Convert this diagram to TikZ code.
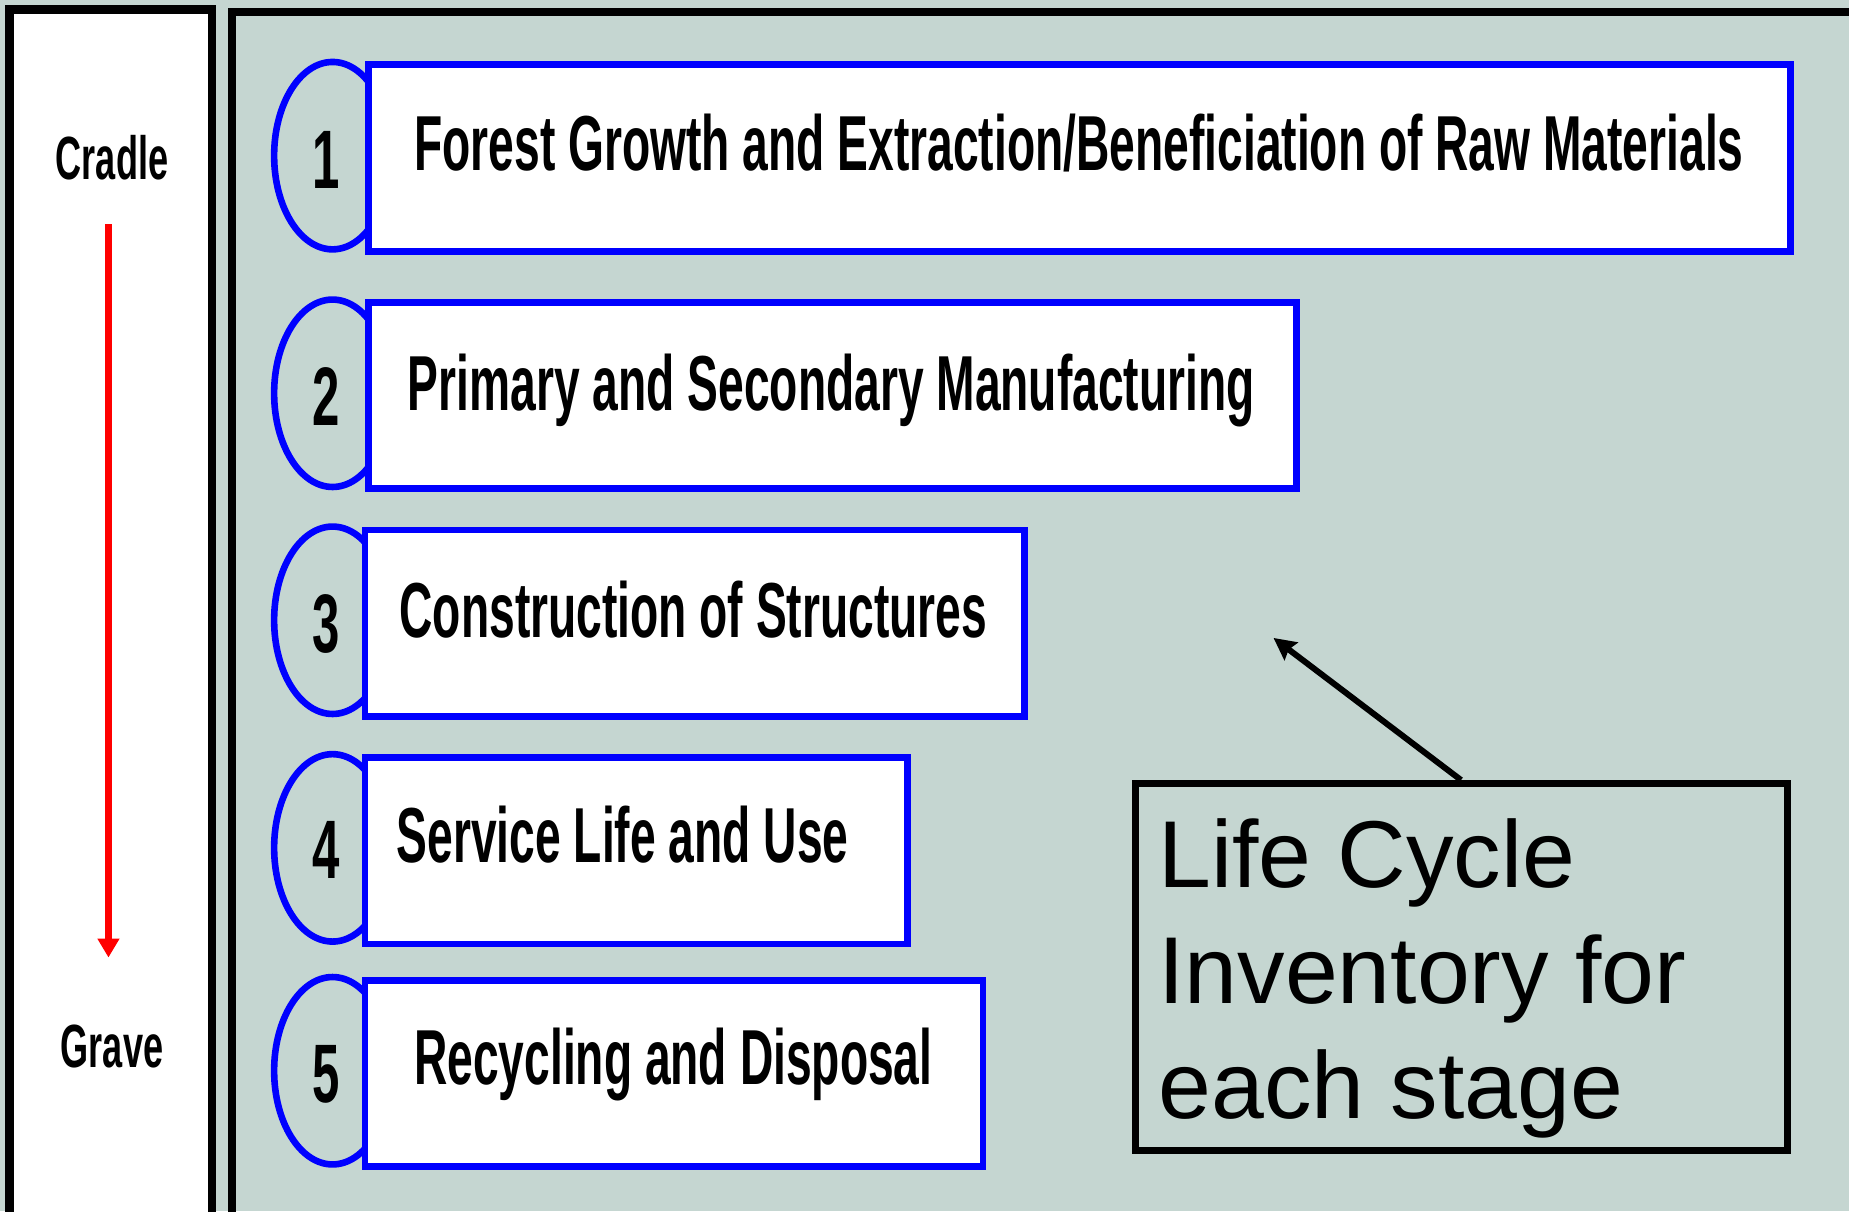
\documentclass[tikz,border=0pt]{standalone}
\usepackage{fontspec}
\setmainfont{Liberation Sans}
\newfontfamily\condfont{Liberation Sans}[FakeStretch=0.592]
\usetikzlibrary{shapes.geometric,arrows.meta}
\definecolor{bgc}{RGB}{197,214,209}
\tikzset{
  panel/.style={draw=black, line width=4.1pt},
  stagebox/.style={draw=blue, line width=3.4pt, fill=white, rectangle, inner sep=0pt, minimum height=93.2pt},
  numring/.style={draw=blue, line width=3.3pt, ellipse, inner sep=0pt, minimum width=58.4pt, minimum height=93.7pt},
  numtext/.style={font=\condfont\bfseries\fontsize{41.5}{46}\selectfont, inner sep=0pt, anchor=base},
  stagetext/.style={font=\condfont\bfseries\fontsize{39}{44}\selectfont, inner sep=0pt, anchor=base},
  sidetext/.style={font=\condfont\bfseries\fontsize{30.5}{34}\selectfont, inner sep=0pt, anchor=base},
  lcibox/.style={draw=black, line width=3.5pt, rectangle, inner sep=0pt, minimum width=326.0pt, minimum height=183.4pt},
  lcitext/.style={font=\fontsize{47.5}{57.8}\selectfont, align=left, inner sep=0pt, anchor=north west},
  redarrow/.style={draw=red, line width=3.4pt, -{Triangle[width=10.5pt,length=9.5pt]}},
  blackarrow/.style={draw=black, line width=3pt, -{Stealth[width=11pt,length=11pt,inset=1.5pt]}}
}
\begin{document}
\begin{tikzpicture}[x=0.5896pt,y=-0.5896pt]
\useasboundingbox (0,0) rectangle (1568,1027);
\clip (0,0) rectangle (1568,1027);
\fill[bgc] (0,0) rectangle (1568,1027);
% panels
\draw[panel, fill=white] (8,8) rectangle (180,1045);
\draw[panel] (197,10) rectangle (1600,1045);
% side labels and arrow
\node[sidetext] (cradle) at (95,152) {Cradle};
\node[sidetext] (grave) at (95,905) {Grave};
\coordinate (redstart) at (92,190);
\coordinate (redend) at (92,812);
\draw[redarrow] (redstart) -- (redend);
% rings
\node[numring] (e1) at (282,132) {};
\node[numring] (e2) at (282,333.5) {};
\node[numring] (e3) at (282,526) {};
\node[numring] (e4) at (282,719) {};
\node[numring] (e5) at (282,908) {};
% boxes
\node[stagebox, minimum width=711.1pt] (s1) at (915.5,134) {};
\node[stagebox, minimum width=464.0pt] (s2) at (706,335.5) {};
\node[stagebox, minimum width=329.6pt] (s3) at (589,528.5) {};
\node[stagebox, minimum width=271.2pt] (s4) at (539.5,721.5) {};
\node[stagebox, minimum width=309.0pt] (s5) at (571.5,910.5) {};
% numbers
\node[numtext] (n1) at (277,160) {1};
\node[numtext] (n2) at (277,361) {2};
\node[numtext] (n3) at (277,553) {3};
\node[numtext] (n4) at (277,745) {4};
\node[numtext] (n5) at (277,935) {5};
% stage labels
\node[stagetext] (t1) at (915,145) {Forest Growth and Extraction/Beneficiation of Raw Materials};
\node[stagetext] (t2) at (705,348) {Primary and Secondary Manufacturing};
\node[stagetext] (t3) at (588,541) {Construction of Structures};
\node[stagetext] (t4) at (528,731) {Service Life and Use};
\node[stagetext] (t5) at (571,920) {Recycling and Disposal};
% LCI box
\node[lcibox] (lci) at (1239,820) {};
\node[lcitext] (lcitxt) at (982,694) {Life Cycle\\Inventory for\\each stage};
\coordinate (lcitip) at (1080,541);
\draw[blackarrow] (lci.north) -- (lcitip);
\end{tikzpicture}
\end{document}
